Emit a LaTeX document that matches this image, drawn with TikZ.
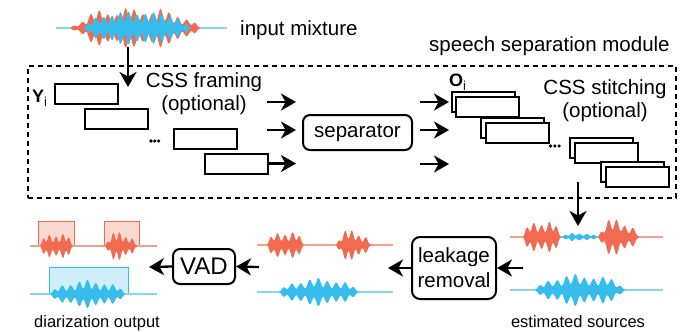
\documentclass[tikz,border=0pt]{standalone}
\usepackage{fontspec}
\setmainfont{Liberation Sans}
\usetikzlibrary{arrows.meta}

\definecolor{wred}{HTML}{F26B50}
\definecolor{wblue}{HTML}{36BDEE}
\definecolor{lred}{HTML}{F5A08C}
\definecolor{lblue}{HTML}{86D5F3}

% half-height of a speech burst at parameter \x: spikes, lobe phase, amplitude
\newcommand\burstamp[3]{sin(180*\x)*(2-sin(180*\x))*(0.7-0.3*cos(2*#1*180*\x+2*#2))*(0.74+0.26*abs(sin(#1*45*\x+5*#2)))*(0.86+0.14*sin(#1*97*\x+7*#2))*#3}
% filled speech burst: colour, x start, x end, baseline y, amplitude, spikes, phase
\newcommand\speechburst[7]{%
  \fill[#1] plot[domain=0:1,samples=200]
    ({#2+(#3-#2)*\x},{#4-\burstamp{#6}{#7}{#5}})
    -- plot[domain=1:0,samples=200]
    ({#2+(#3-#2)*\x},{#4+\burstamp{#6}{#7}{#5}})
    -- cycle;}

\tikzset{
  lbl/.style={font=\fontsize{20.5bp}{23bp}\selectfont, inner sep=0pt, align=center},
  smalllbl/.style={font=\fontsize{16.5bp}{18bp}\selectfont, inner sep=0pt},
  symlbl/.style={font=\fontsize{18bp}{20bp}\selectfont\bfseries, inner sep=0pt},
  frame/.style={draw, line width=2bp, minimum width=63bp, minimum height=20bp, inner sep=0pt, fill=white},
  blockbox/.style={draw, line width=2bp, rounded corners=7bp, inner sep=0pt, align=center},
  modbox/.style={draw, line width=1.7bp, dash pattern=on 5bp off 4bp, inner sep=0pt},
  arr/.style={line width=2.3bp, -{Stealth[length=15bp,width=17bp,inset=4.5bp]}},
  redline/.style={draw=lred, line width=1.4bp},
  blueline/.style={draw=lblue, line width=1.4bp},
  dot/.style={circle, fill, inner sep=0pt, minimum size=3.6bp},
}

\begin{document}
\begin{tikzpicture}[x=1bp,y=-1bp]
\useasboundingbox (0,0) rectangle (686,331);

% ---------- input mixture ----------
\draw[blueline] (56,28) -- (227,28);
\speechburst{wred}{70}{201}{28}{21}{15}{25}
\speechburst{wblue}{83}{191}{28}{19}{13}{0}
\node[lbl, anchor=base west] (mixlbl) at (240,35) {input mixture};
\coordinate (mixout) at (128,47);

% ---------- speech separation module ----------
\node[modbox, minimum width=648bp, minimum height=132bp] (module) at (352,132) {};
\node[lbl, anchor=base west] (modlbl) at (429,51) {speech separation module};

\coordinate (framein) at (128,87);
\draw[arr] (mixout) -- (framein);

% framing (anchor base = baseline of the last line)
\node[lbl, anchor=base] (framelbl) at (204,110) {CSS framing\\(optional)};
\node[symlbl, anchor=base west] (ylbl) at (32,102) {Y\raisebox{-4bp}{\fontsize{13bp}{13bp}\selectfont\mdseries i}};
\node[frame] (f1) at (86.5,94) {};
\node[frame] (f2) at (116,119) {};
\node[frame] (f3) at (205,138.5) {};
\node[frame] (f4) at (236.5,163.5) {};
\node[dot] (fd1) at (151,141) {};
\node[dot] (fd2) at (154.8,141) {};
\node[dot] (fd3) at (158.6,141) {};

% separator
\node[blockbox, lbl, minimum width=109bp, minimum height=35bp, rounded corners=7bp] (sep) at (357.5,132.5) {separator};

\coordinate (i1s) at (267,102);   \coordinate (i1e) at (296,102);
\coordinate (i2s) at (267,130);   \coordinate (i2e) at (296,130);
\coordinate (i3e) at (296,163.5);
\draw[arr] (i1s) -- (i1e);
\draw[arr] (i2s) -- (i2e);
\draw[arr] (f4.east) -- (i3e);

\coordinate (o1s) at (420,102);   \coordinate (o1e) at (449,102);
\coordinate (o2s) at (420,130);   \coordinate (o2e) at (449,130);
\coordinate (o3s) at (420,164);   \coordinate (o3e) at (449,164);
\draw[arr] (o1s) -- (o1e);
\draw[arr] (o2s) -- (o2e);
\draw[arr] (o3s) -- (o3e);

% stitching
\node[symlbl, anchor=base west] (olbl) at (449,86) {O\raisebox{-4bp}{\fontsize{13bp}{13bp}\selectfont\mdseries i}};
\node[frame] (s1b) at (483,102) {};
\node[frame] (s1) at (487.5,107) {};
\node[frame] (s2b) at (512.5,127.5) {};
\node[frame] (s2) at (517,132.5) {};
\node[frame] (s3b) at (601.5,148) {};
\node[frame] (s3) at (606,153) {};
\node[frame] (s4b) at (632.5,172) {};
\node[frame] (s4) at (637,177) {};
\node[dot] (sd1) at (550.5,146) {};
\node[dot] (sd2) at (554.8,146) {};
\node[dot] (sd3) at (559.1,146) {};
\node[lbl, anchor=base] (stitchlbl) at (605,117) {CSS stitching\\(optional)};

% ---------- estimated sources ----------
\coordinate (stitchout) at (578,182);
\coordinate (estin) at (578,226);
\draw[arr] (stitchout) -- (estin);

\draw[redline] (510,237) -- (561,237);
\draw[blueline] (561,237) -- (598,237);
\draw[redline] (598,237) -- (663,237);
\speechburst{wred}{523}{561}{237}{19}{5}{10}
\speechburst{wblue}{561}{598}{237}{4.5}{5}{0}
\speechburst{wred}{598}{639}{237}{19}{5}{40}
\draw[blueline] (510,290) -- (663,290);
\speechburst{wblue}{535}{626}{290}{17}{10}{10}
\node[smalllbl, anchor=base] (estlbl) at (578,327) {estimated sources};

% leakage removal
\node[blockbox, lbl, minimum width=84bp, minimum height=62bp, rounded corners=8bp] (leak) at (454,268) {leakage\\[2bp]removal};
\coordinate (estout) at (523,268);
\draw[arr] (estout) -- (leak.east);
\coordinate (cleanin) at (388,268);
\draw[arr] (leak.west) -- (cleanin);

% cleaned sources
\draw[redline] (257,245) -- (393,245);
\speechburst{wred}{267}{304}{245}{16}{5}{10}
\speechburst{wred}{336}{371}{245}{16}{5}{40}
\draw[blueline] (257,292) -- (393,292);
\speechburst{wblue}{279}{359}{292}{15}{9}{10}

% VAD
\node[blockbox, minimum width=62bp, minimum height=35bp, font=\fontsize{24bp}{26bp}\selectfont] (vad) at (204,266.5) {VAD};
\coordinate (vadin) at (259,267);
\draw[arr] (vadin) -- (vad.east);
\coordinate (diarin) at (149,267);
\draw[arr] (vad.west) -- (diarin);

% ---------- diarization output ----------
\fill[lred, fill opacity=0.4] (38,221) rectangle (74,246);
\draw[wred, line width=1bp] (38,246) -- (38,221) -- (74,221) -- (74,246);
\fill[lred, fill opacity=0.4] (104,221) rectangle (139,246);
\draw[wred, line width=1bp] (104,246) -- (104,221) -- (139,221) -- (139,246);
\fill[lblue, fill opacity=0.4] (49,267) rectangle (128,294);
\draw[wblue, line width=1bp] (49,294) -- (49,267) -- (128,267) -- (128,294);

\draw[redline] (30,246) -- (157,246);
\speechburst{wred}{40}{73}{246}{15}{5}{10}
\speechburst{wred}{105}{137}{246}{15}{5}{40}
\draw[blueline] (30,294) -- (157,294);
\speechburst{wblue}{50}{126}{294}{15}{9}{10}
\node[smalllbl, anchor=base] (diarlbl) at (97,327) {diarization output};
\end{tikzpicture}
\end{document}
